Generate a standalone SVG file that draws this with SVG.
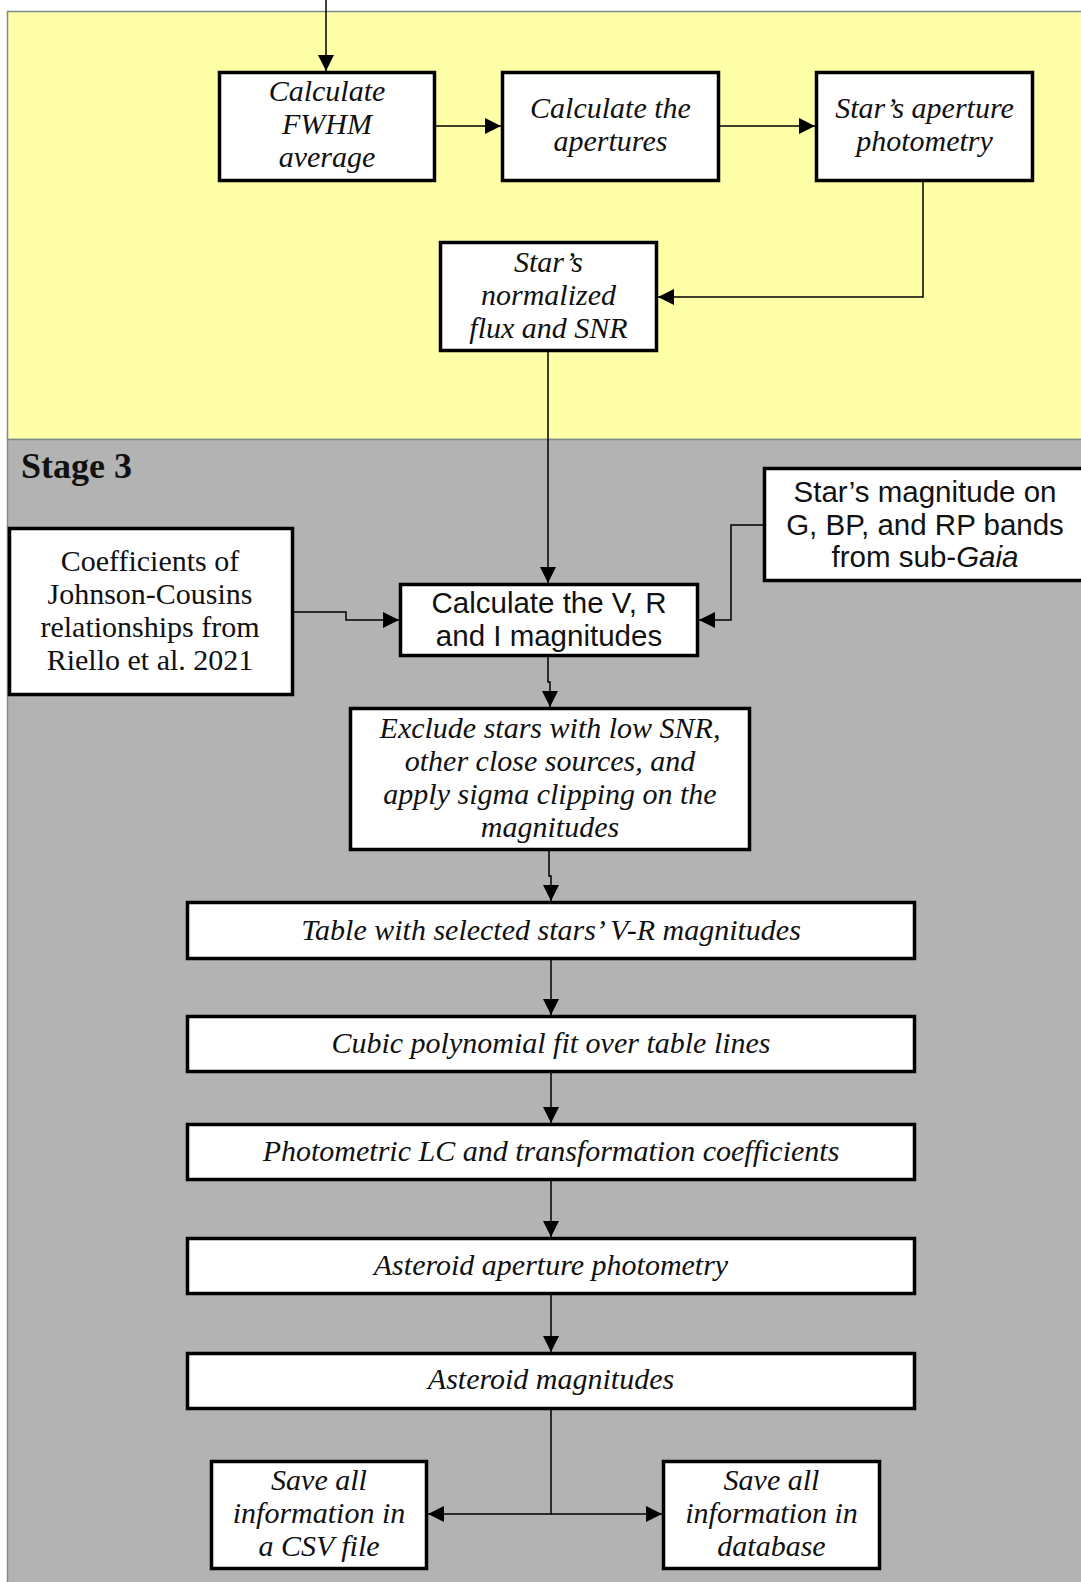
<svg xmlns="http://www.w3.org/2000/svg" width="1081" height="1582" viewBox="0 0 1081 1582">
<defs>
<style>
.box{fill:#ffffff;stroke:#000000;stroke-width:3.5}
.t{font-family:"Liberation Serif",serif;font-style:italic;font-size:30px;fill:#111;text-anchor:middle}
.r{font-family:"Liberation Serif",serif;font-size:30px;fill:#111;text-anchor:middle}
.s{font-family:"Liberation Sans",sans-serif;font-size:29.5px;fill:#111;text-anchor:middle}
.c{fill:none;stroke:#000;stroke-width:1.5}
</style>
<marker id="ah" viewBox="0 0 16 16" refX="16" refY="8" markerWidth="16" markerHeight="16" markerUnits="userSpaceOnUse" orient="auto">
<path d="M0,0 L16,8 L0,16 Z" fill="#000"/>
</marker>
</defs>
<rect width="1081" height="1582" fill="#ffffff"/>
<g id="panel-stage2">
<rect x="7.5" y="11.5" width="1080" height="428" fill="#ffffa8" stroke="#7f8c8c" stroke-width="1.5"/>
</g>
<g id="panel-stage3">
<rect x="7.5" y="439.5" width="1080" height="1150" fill="#b3b3b3" stroke="#7f8c8c" stroke-width="1.5"/>
<text x="21" y="478" font-family="Liberation Serif,serif" font-weight="bold" font-size="36" fill="#111">Stage 3</text>
</g>
<g id="connectors">
<path class="c" d="M326,0 V71" marker-end="url(#ah)"/>
<path class="c" d="M436,126 H501" marker-end="url(#ah)"/>
<path class="c" d="M720,126 H815" marker-end="url(#ah)"/>
<path class="c" d="M923,182 V297 H658" marker-end="url(#ah)"/>
<path class="c" d="M548,352 V583" marker-end="url(#ah)"/>
<path class="c" d="M294,612 H346 V620 H399" marker-end="url(#ah)"/>
<path class="c" d="M763,525 H731 V620 H699" marker-end="url(#ah)"/>
<path class="c" d="M548,657 V682 H550 V707" marker-end="url(#ah)"/>
<path class="c" d="M549,851 V876 H551 V901" marker-end="url(#ah)"/>
<path class="c" d="M551,960 V1015" marker-end="url(#ah)"/>
<path class="c" d="M551,1073 V1123" marker-end="url(#ah)"/>
<path class="c" d="M551,1181 V1237" marker-end="url(#ah)"/>
<path class="c" d="M551,1295 V1352" marker-end="url(#ah)"/>
<path class="c" d="M551,1409 V1514 H428" marker-end="url(#ah)"/>
<path class="c" d="M551,1514 H662" marker-end="url(#ah)"/>
</g>
<g id="fwhm">
<rect class="box" x="219.5" y="72.5" width="215" height="108"/>
<text class="t" x="327" y="101">Calculate</text>
<text class="t" x="327" y="134">FWHM</text>
<text class="t" x="327" y="167">average</text>
</g>
<g id="apertures">
<rect class="box" x="502.5" y="72.5" width="216" height="108"/>
<text class="t" x="610.5" y="117.5">Calculate the</text>
<text class="t" x="610.5" y="150.5">apertures</text>
</g>
<g id="star-photometry">
<rect class="box" x="816.5" y="72.5" width="216" height="108"/>
<text class="t" x="924.5" y="117.5">Star’s aperture</text>
<text class="t" x="924.5" y="150.5">photometry</text>
</g>
<g id="normalized">
<rect class="box" x="440.5" y="242.5" width="216" height="108"/>
<text class="t" x="548.5" y="272">Star’s</text>
<text class="t" x="548.5" y="305">normalized</text>
<text class="t" x="548.5" y="338">flux and SNR</text>
</g>
<g id="coefficients">
<rect class="box" x="9.5" y="528.5" width="283" height="166"/>
<text class="r" x="150" y="570.5">Coefficients of</text>
<text class="r" x="150" y="603.5">Johnson-Cousins</text>
<text class="r" x="150" y="636.5">relationships from</text>
<text class="r" x="150" y="669.5">Riello et al. 2021</text>
</g>
<g id="gaia-mags">
<rect class="box" x="764.5" y="468.5" width="330" height="112"/>
<text class="s" x="925" y="502">Star’s magnitude on</text>
<text class="s" x="925" y="534.5">G, BP, and RP bands</text>
<text class="s" x="925" y="567">from sub-<tspan font-style="italic">Gaia</tspan></text>
</g>
<g id="vri">
<rect class="box" x="400.5" y="584.5" width="297" height="71"/>
<text class="s" x="549" y="613">Calculate the V, R</text>
<text class="s" x="549" y="646">and I magnitudes</text>
</g>
<g id="exclude">
<rect class="box" x="350.5" y="708.5" width="399" height="141"/>
<text class="t" x="550" y="738">Exclude stars with low SNR,</text>
<text class="t" x="550" y="771">other close sources, and</text>
<text class="t" x="550" y="804">apply sigma clipping on the</text>
<text class="t" x="550" y="837">magnitudes</text>
</g>
<g id="table">
<rect class="box" x="187.5" y="902.5" width="727" height="56"/>
<text class="t" x="551" y="940">Table with selected stars’ V-R magnitudes</text>
</g>
<g id="cubic">
<rect class="box" x="187.5" y="1016.5" width="727" height="55"/>
<text class="t" x="551" y="1053">Cubic polynomial fit over table lines</text>
</g>
<g id="lc">
<rect class="box" x="187.5" y="1124.5" width="727" height="55"/>
<text class="t" x="551" y="1161">Photometric LC and transformation coefficients</text>
</g>
<g id="ast-phot">
<rect class="box" x="187.5" y="1238.5" width="727" height="55"/>
<text class="t" x="551" y="1275">Asteroid aperture photometry</text>
</g>
<g id="ast-mag">
<rect class="box" x="187.5" y="1353.5" width="727" height="55"/>
<text class="t" x="551" y="1389">Asteroid magnitudes</text>
</g>
<g id="save-csv">
<rect class="box" x="211.5" y="1461.5" width="215" height="107"/>
<text class="t" x="319" y="1490">Save all</text>
<text class="t" x="319" y="1523">information in</text>
<text class="t" x="319" y="1556">a CSV file</text>
</g>
<g id="save-db">
<rect class="box" x="663.5" y="1461.5" width="216" height="107"/>
<text class="t" x="771.5" y="1490">Save all</text>
<text class="t" x="771.5" y="1523">information in</text>
<text class="t" x="771.5" y="1556">database</text>
</g>
</svg>
